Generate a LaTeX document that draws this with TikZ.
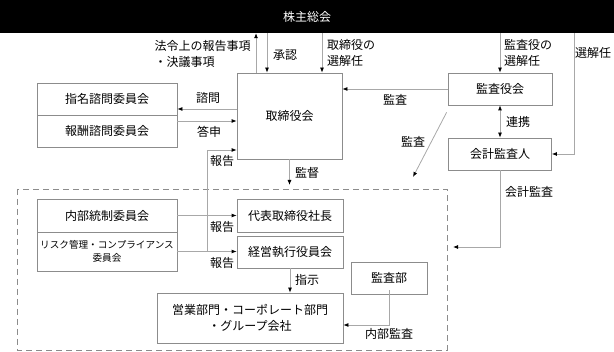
\documentclass[tikz,border=0pt]{standalone}
\usepackage{fontspec}
\setmainfont{Noto Sans CJK JP}
\usetikzlibrary{arrows.meta}
\definecolor{framegray}{HTML}{8C8C8C}
\definecolor{linegray}{HTML}{A8A8A8}
\begin{document}
\begin{tikzpicture}[x=1pt,y=-1pt,font=\fontsize{12}{16}\selectfont,
    box/.style n args={2}{draw=framegray,line width=0.8pt,minimum width=#1,minimum height=#2,inner sep=1pt,align=center},
    tip/.tip={Latex[color=black,length=5pt,width=4pt]},
    arr/.style={draw=linegray,line width=0.8pt,-tip},
    lab/.style={inner sep=0pt,align=left}]
    \useasboundingbox (0,0) rectangle (614,352);
    \node[fill=black,minimum width=614pt,minimum height=33pt,inner sep=0pt,text=white] (soukai) at (307,16.5) {株主総会};
    \node[box={105pt}{86pt}] (torishimari) at (289.5,116) {取締役会};
    \node[box={140pt}{32pt}] (shimei) at (107,99) {指名諮問委員会};
    \node[box={140pt}{32pt}] (houshuu) at (107,131) {報酬諮問委員会};
    \node[box={104pt}{32pt}] (kansayaku) at (500,89) {監査役会};
    \node[box={103pt}{32pt}] (kaikei) at (500,154) {会計監査人};
    \draw[framegray,line width=0.8pt,dash pattern=on 6pt off 4pt] (17,189) rectangle (447,350);
    \node[box={140pt}{33pt}] (naibu) at (107,215.5) {内部統制委員会};
    \node[box={140pt}{39pt},font=\fontsize{9.6}{13}\selectfont] (risk) at (107,251.5) {リスク管理・コンプライアンス\\委員会};
    \node[box={106pt}{33pt}] (daihyo) at (290,215.5) {代表取締役社長};
    \node[box={106pt}{32pt}] (keiei) at (290,252) {経営執行役員会};
    \node[box={186pt}{50pt}] (eigyo) at (250,318) {営業部門・コーポレート部門\\・グループ会社};
    \node[box={76pt}{32pt}] (kansabu) at (389,278) {監査部};
    \coordinate (kantokuend) at (289.5,185);
    \coordinate (diagend) at (413,177);
    \coordinate (kaikeiend) at (453,247);
    \draw[arr] (256,0 |- torishimari.north) -- (256,0 |- soukai.south);
    \draw[arr] (267,0 |- soukai.south) -- (267,0 |- torishimari.north);
    \draw[arr] (322,0 |- soukai.south) -- (322,0 |- torishimari.north);
    \draw[arr] (kansayaku.north |- soukai.south) -- (kansayaku.north);
    \draw[arr] (574,0 |- soukai.south) |- (kaikei.east);
    \draw[arr] (torishimari.west |- 0,109) -- (shimei.east |- 0,109);
    \draw[arr] (houshuu.east |- 0,121) -- (torishimari.west |- 0,121);
    \draw[arr] (kansayaku.west) -- (torishimari.east |- kansayaku.west);
    \draw[draw=linegray,line width=0.8pt,tip-tip] (kansayaku.south) -- (kaikei.north);
    \draw[arr] ([shift={(-1,7)}]kansayaku.south west) -- (diagend);
    \draw[arr] (kaikei.south) |- (kaikeiend);
    \draw[arr] (torishimari.south) -- (kantokuend);
    \draw[arr] (naibu.east) -- (naibu.east -| daihyo.west);
    \draw[arr] (risk.east) -- (risk.east -| keiei.west);
    \draw[arr] (207,0 |- risk.east) |- (torishimari.west |- 0,150);
    \draw[arr] (keiei.south) -- (keiei.south |- eigyo.north);
    \draw[arr] ([yshift=4pt]kansabu.south) |- (eigyo.east |- 0,325);
    \node[lab] (l1) at (202.5,54) {法令上の報告事項\\・決議事項};
    \node[lab] (l2) at (285,55) {承認};
    \node[lab,anchor=west] (l3) at (327,53) {取締役の\\選解任};
    \node[lab,anchor=west] (l4) at (504,53) {監査役の\\選解任};
    \node[lab] (l5) at (593,53) {選解任};
    \node[lab] (l6) at (208,98) {諮問};
    \node[lab] (l7) at (209,132) {答申};
    \node[lab] (l8) at (395,100) {監査};
    \node[lab] (l9) at (518,122) {連携};
    \node[lab] (l10) at (413,142) {監査};
    \node[lab] (l11) at (222,161) {報告};
    \node[lab] (l12) at (307,173) {監督};
    \node[lab] (l13) at (529,192) {会計監査};
    \node[lab] (l14) at (222,227) {報告};
    \node[lab] (l15) at (222,263) {報告};
    \node[lab] (l16) at (307,280) {指示};
    \node[lab] (l17) at (389,334) {内部監査};
\end{tikzpicture}
\end{document}
